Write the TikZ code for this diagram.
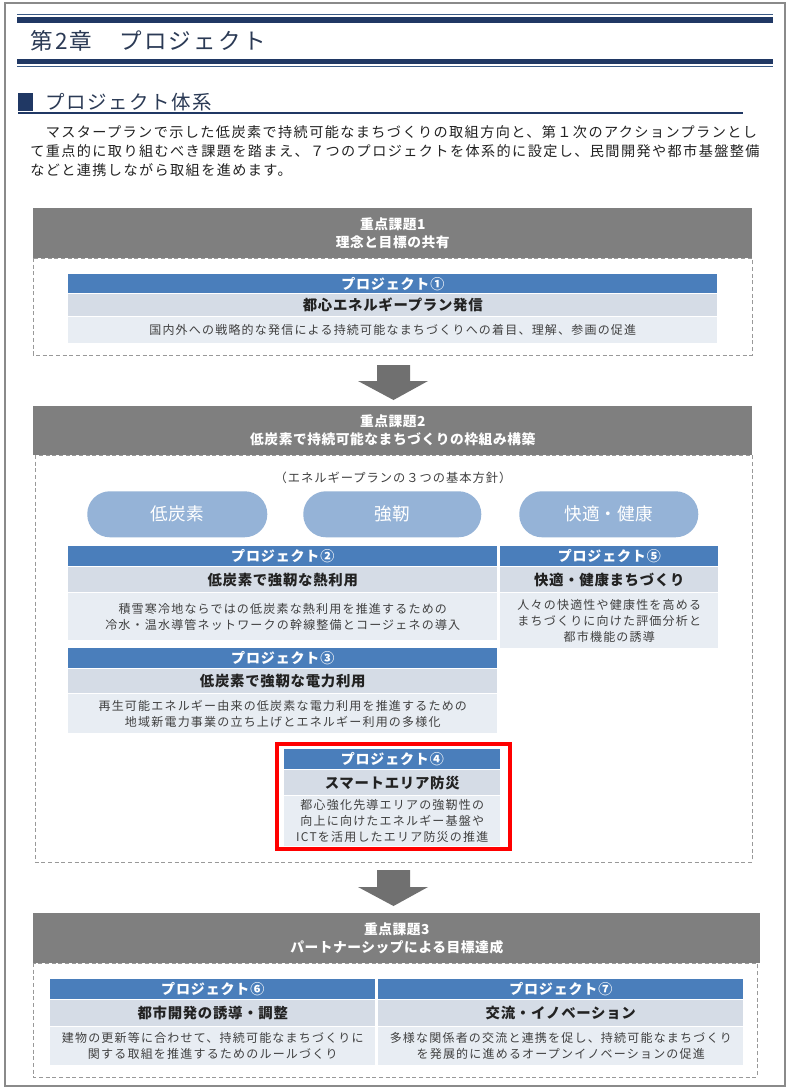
\documentclass[tikz,border=0pt]{standalone}
\usepackage{fontspec}
\setmainfont{Noto Sans CJK JP}
\definecolor{navy}{HTML}{203864}
\definecolor{navylt}{HTML}{3A5A85}
\definecolor{headtxt}{HTML}{2B3A55}
\definecolor{hdrgray}{HTML}{7F7F7F}
\definecolor{arrgray}{HTML}{707070}
\definecolor{pblue}{HTML}{4A7EBB}
\definecolor{pnamec}{HTML}{D5DCE6}
\definecolor{pdescc}{HTML}{E8EDF3}
\definecolor{pillc}{HTML}{95B3D7}
\definecolor{dashc}{HTML}{999999}
\definecolor{txt}{HTML}{222222}
\definecolor{desc}{HTML}{404040}
\definecolor{brd}{HTML}{8A8A8A}
\newcommand\fs[2]{\fontsize{#1}{#2}\selectfont}
\newcommand\ls[1]{\addfontfeature{LetterSpace=#1}}
\newcommand\rbox[7]{\node[#6, inner sep=0pt, anchor=north west, minimum width={(#4-#2)*0.75pt}, minimum height={(#5-#3)*0.75pt}] (#1) at (#2,#3) {#7};}
\tikzset{
  hdr/.style={fill=hdrgray, text=white, font=\bfseries\fs{10.3}{13.5}\ls{4}, align=center},
  pbar/.style={fill=pblue, text=white, font=\bfseries\fs{10.5}{12}\ls{6}},
  pname/.style={fill=pnamec, text=txt, font=\bfseries\fs{10.8}{12}\ls{5}},
  pdesc/.style={fill=pdescc, text=desc, font=\fs{9}{12}\ls{10}, align=center},
  dbox/.style={draw=dashc, dash pattern=on 3pt off 2pt, line width=0.7pt},
  pill/.style={fill=pillc, text=white, rounded corners=17pt, font=\fs{13.2}{15}},
  arrowshape/.style={fill=arrgray},
  para/.style={anchor=west, inner sep=0pt, text=txt, font=\fs{10.6}{12}\ls{10}}
}
\begin{document}
\begin{tikzpicture}[x=0.75pt,y=-0.75pt]
\useasboundingbox (0,0) rectangle (787,1088);
\fill[white] (0,0) rectangle (787,1088);
\draw[brd, line width=1.1pt] (5,3) rectangle (785,1086);
% top rules
\fill[navylt] (17,13.8) rectangle (773,15.2);
\fill[navy] (17,17) rectangle (773,23);
\fill[navy] (17,59) rectangle (773,64.5);
\fill[navylt] (17,66) rectangle (773,67.4);
\node[anchor=west, inner sep=0pt, text=headtxt, font=\fs{16.9}{19}\ls{10}] (chap) at (30,41) {第2章　プロジェクト};
% section title
\fill[navy] (18,93) rectangle (33,111);
\node[anchor=west, inner sep=0pt, text=headtxt, font=\fs{14.6}{17}\ls{8}] (sect) at (45,102) {プロジェクト体系};
\fill[navy] (18,112.3) rectangle (743,114.3);
\node[para] (p1) at (30,132) {　マスタープランで示した低炭素で持続可能なまちづくりの取組方向と、第１次のアクションプランとし};
\node[para] (p2) at (30,151) {て重点的に取り組むべき課題を踏まえ、７つのプロジェクトを体系的に設定し、民間開発や都市基盤整備};
\node[para] (p3) at (30,170) {などと連携しながら取組を進めます。};
% ===== Box 1
\draw[dbox] (33,258) rectangle (752,355);
\rbox{h1}{33}{208}{752}{258}{hdr}{重点課題1\\理念と目標の共有}
\rbox{b1}{68}{274}{717}{293}{pbar}{プロジェクト①}
\rbox{n1}{68}{294}{717}{316}{pname}{都心エネルギープラン発信}
\rbox{d1}{68}{317}{717}{343}{pdesc}{国内外への戦略的な発信による持続可能なまちづくりへの着目、理解、参画の促進}
% arrow 1
\fill[arrowshape] (377,365) -- (410,365) -- (410,381) -- (428,381) -- (393.5,400) -- (358,381) -- (377,381) -- cycle;
% ===== Box 2
\draw[dbox] (35,455) rectangle (752,862);
\rbox{h2}{33}{406}{752}{455}{hdr}{重点課題2\\低炭素で持続可能なまちづくりの枠組み構築}
\node[text=desc, font=\fs{9.2}{11}\ls{8}, inner sep=0pt] (pol) at (393,478) {（エネルギープランの３つの基本方針）};
\rbox{s1}{87}{491}{267}{537}{pill}{低炭素}
\rbox{s2}{303}{491}{481}{537}{pill}{強靭}
\rbox{s3}{519}{491}{698}{537}{pill}{快適・健康}
\rbox{b2}{68}{546}{497}{566}{pbar}{プロジェクト②}
\rbox{n2}{68}{567}{497}{592}{pname}{低炭素で強靭な熱利用}
\rbox{d2}{68}{593}{497}{640}{pdesc}{積雪寒冷地ならではの低炭素な熱利用を推進するための\\冷水・温水導管ネットワークの幹線整備とコージェネの導入}
\rbox{b5}{500}{546}{718}{566}{pbar}{プロジェクト⑤}
\rbox{n5}{500}{567}{718}{592}{pname}{快適・健康まちづくり}
\rbox{d5}{500}{593}{718}{648}{pdesc}{人々の快適性や健康性を高める\\まちづくりに向けた評価分析と\\都市機能の誘導}
\rbox{b3}{68}{648}{497}{668}{pbar}{プロジェクト③}
\rbox{n3}{68}{669}{497}{693}{pname}{低炭素で強靭な電力利用}
\rbox{d3}{68}{694}{497}{733}{pdesc}{再生可能エネルギー由来の低炭素な電力利用を推進するための\\地域新電力事業の立ち上げとエネルギー利用の多様化}
\rbox{b4}{284}{749}{500}{769}{pbar}{プロジェクト④}
\rbox{n4}{284}{770}{500}{795}{pname}{スマートエリア防災}
\rbox{d4}{284}{796}{500}{846}{pdesc}{都心強化先導エリアの強靭性の\\向上に向けたエネルギー基盤や\\ICTを活用したエリア防災の推進}
\draw[red, line width=3pt] (276.5,744) rectangle (510,848.5);
% arrow 2
\fill[arrowshape] (377,870) -- (410,870) -- (410,887) -- (428,887) -- (393.5,906) -- (358,887) -- (377,887) -- cycle;
% ===== Box 3
\draw[dbox] (33,963) rectangle (757,1077);
\rbox{h3}{33}{913}{760}{963}{hdr}{重点課題3\\パートナーシップによる目標達成}
\rbox{b6}{50}{979}{375}{999}{pbar}{プロジェクト⑥}
\rbox{n6}{50}{1000}{375}{1026}{pname}{都市開発の誘導・調整}
\rbox{d6}{50}{1027}{375}{1065}{pdesc}{建物の更新等に合わせて、持続可能なまちづくりに\\関する取組を推進するためのルールづくり}
\rbox{b7}{378}{979}{743}{999}{pbar}{プロジェクト⑦}
\rbox{n7}{378}{1000}{743}{1026}{pname}{交流・イノベーション}
\rbox{d7}{378}{1027}{743}{1065}{pdesc}{多様な関係者の交流と連携を促し、持続可能なまちづくり\\を発展的に進めるオープンイノベーションの促進}
\end{tikzpicture}
\end{document}
